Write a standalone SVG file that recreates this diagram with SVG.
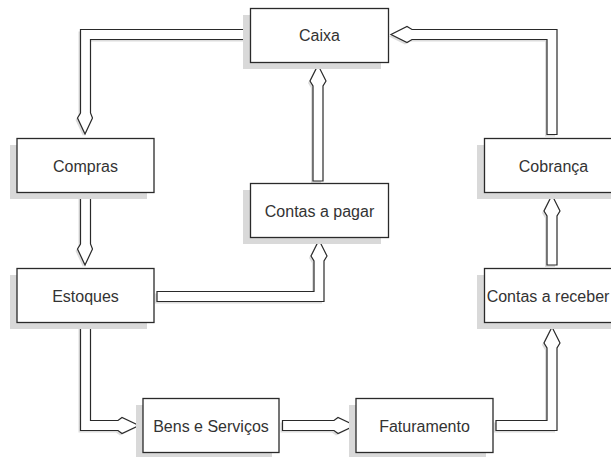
<svg xmlns="http://www.w3.org/2000/svg" width="611" height="458" viewBox="0 0 611 458">
  <defs>
    <style>
      .shadow { fill: #d9d9d9; stroke: none; }
      .box { fill: #ffffff; stroke: #2a2a2a; stroke-width: 1.3; }
      .label { font-family: "Liberation Sans", Arial, sans-serif; font-size: 16px; fill: #333333; text-anchor: middle; }
      .arrow-shadow { fill: #dcdcdc; stroke: none; }
      .arrow { fill: #ffffff; stroke: #2a2a2a; stroke-width: 1.2; stroke-linejoin: miter; }
    </style>
  </defs>
  <rect x="0" y="0" width="611" height="458" fill="#ffffff"/>

  <g id="connectors">
    <!-- Caixa -> Compras -->
    <path class="arrow-shadow" transform="translate(-2,2)" d="M247,29.5 L80.5,29.5 L80.5,113 L77.5,118 L85,134 L92.5,118 L90.5,113 L90.5,39.5 L247,39.5 Z"/>
    <path class="arrow" d="M247,29.5 L80.5,29.5 L80.5,113 L77.5,118 L85,134 L92.5,118 L90.5,113 L90.5,39.5 L247,39.5 Z"/>
    <!-- Compras -> Estoques -->
    <path class="arrow-shadow" transform="translate(-2,2)" d="M80.5,195.5 L80.5,244 L77.5,249 L85,265 L92.5,249 L90.5,244 L90.5,195.5 Z"/>
    <path class="arrow" d="M80.5,195.5 L80.5,244 L77.5,249 L85,265 L92.5,249 L90.5,244 L90.5,195.5 Z"/>
    <!-- Estoques -> Contas a pagar -->
    <path class="arrow-shadow" transform="translate(-2,2)" d="M157,291.5 L314,291.5 L314,261 L311,256 L319,240 L327,256 L324,261 L324,301.5 L157,301.5 Z"/>
    <path class="arrow" d="M157,291.5 L314,291.5 L314,261 L311,256 L319,240 L327,256 L324,261 L324,301.5 L157,301.5 Z"/>
    <!-- Contas a pagar -> Caixa -->
    <path class="arrow-shadow" transform="translate(-2,2)" d="M313,181 L313,86 L310,81 L318,65 L326,81 L323,86 L323,181 Z"/>
    <path class="arrow" d="M313,181 L313,86 L310,81 L318,65 L326,81 L323,86 L323,181 Z"/>
    <!-- Cobranca -> Caixa -->
    <path class="arrow-shadow" transform="translate(-2,2)" d="M547,134.5 L547,39.5 L412,39.5 L407,42.5 L391,34.5 L407,26.5 L412,29.5 L557,29.5 L557,134.5 Z"/>
    <path class="arrow" d="M547,134.5 L547,39.5 L412,39.5 L407,42.5 L391,34.5 L407,26.5 L412,29.5 L557,29.5 L557,134.5 Z"/>
    <!-- Contas a receber -> Cobranca -->
    <path class="arrow-shadow" transform="translate(-2,2)" d="M547,265 L547,216 L544,211 L552,195 L560,211 L557,216 L557,265 Z"/>
    <path class="arrow" d="M547,265 L547,216 L544,211 L552,195 L560,211 L557,216 L557,265 Z"/>
    <!-- Faturamento -> Contas a receber -->
    <path class="arrow-shadow" transform="translate(-2,2)" d="M496,420.5 L547,420.5 L547,348 L544,343 L552,327 L560,343 L557,348 L557,430.5 L496,430.5 Z"/>
    <path class="arrow" d="M496,420.5 L547,420.5 L547,348 L544,343 L552,327 L560,343 L557,348 L557,430.5 L496,430.5 Z"/>
    <!-- Bens e Servicos -> Faturamento -->
    <path class="arrow-shadow" transform="translate(-2,2)" d="M282.5,420.5 L334,420.5 L338,417.5 L355,425.5 L338,433.5 L334,430.5 L282.5,430.5 Z"/>
    <path class="arrow" d="M282.5,420.5 L334,420.5 L338,417.5 L355,425.5 L338,433.5 L334,430.5 L282.5,430.5 Z"/>
    <!-- Estoques -> Bens e Servicos -->
    <path class="arrow-shadow" transform="translate(-2,2)" d="M80.5,326.5 L80.5,430.5 L118,430.5 L122,433.5 L139,425.5 L122,417.5 L118,420.5 L90.5,420.5 L90.5,326.5 Z"/>
    <path class="arrow" d="M80.5,326.5 L80.5,430.5 L118,430.5 L122,433.5 L139,425.5 L122,417.5 L118,420.5 L90.5,420.5 L90.5,326.5 Z"/>
  </g>

  <g id="caixa">
    <rect class="shadow" x="243" y="15" width="138" height="54"/>
    <rect class="box" x="250.5" y="8.5" width="138" height="54"/>
    <text class="label" x="319.5" y="41">Caixa</text>
  </g>
  <g id="compras">
    <rect class="shadow" x="10" y="145" width="137" height="54"/>
    <rect class="box" x="17" y="138.5" width="137" height="54"/>
    <text class="label" x="85.5" y="171.5">Compras</text>
  </g>
  <g id="estoques">
    <rect class="shadow" x="10" y="275" width="137" height="54"/>
    <rect class="box" x="17" y="268.5" width="137" height="54"/>
    <text class="label" x="85.5" y="301.5">Estoques</text>
  </g>
  <g id="contas-a-pagar">
    <rect class="shadow" x="243" y="190" width="138" height="54"/>
    <rect class="box" x="250.5" y="183.5" width="138" height="54"/>
    <text class="label" x="319.5" y="216.5">Contas a pagar</text>
  </g>
  <g id="cobranca">
    <rect class="shadow" x="477" y="145" width="138" height="54"/>
    <rect class="box" x="484.5" y="138.5" width="138" height="54"/>
    <text class="label" x="553.5" y="171.5">Cobrança</text>
  </g>
  <g id="contas-a-receber">
    <rect class="shadow" x="477" y="275" width="138" height="54"/>
    <rect class="box" x="484.5" y="268.5" width="138" height="54"/>
    <text class="label" x="548" y="301.5">Contas a receber</text>
  </g>
  <g id="bens-e-servicos">
    <rect class="shadow" x="136" y="405" width="136" height="52"/>
    <rect class="box" x="143" y="398.5" width="136" height="54"/>
    <text class="label" x="211" y="431.5">Bens e Serviços</text>
  </g>
  <g id="faturamento">
    <rect class="shadow" x="349" y="405" width="137" height="52"/>
    <rect class="box" x="356" y="398.5" width="137" height="54"/>
    <text class="label" x="424.5" y="431.5">Faturamento</text>
  </g>
</svg>
